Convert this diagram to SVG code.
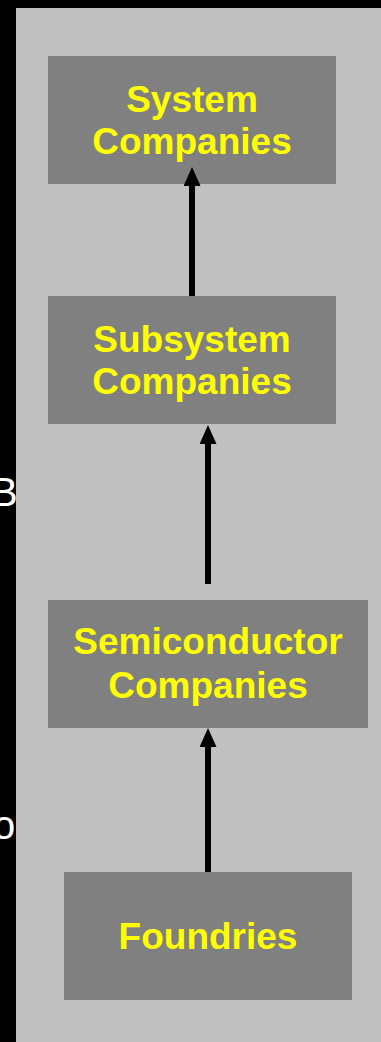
<svg xmlns="http://www.w3.org/2000/svg" width="381" height="1042" viewBox="0 0 381 1042">
  <style>
    .node rect { fill: #808080; }
    .node text { fill: #FFFF00; font-family: "Liberation Sans", Arial, sans-serif; font-weight: bold; font-size: 37px; text-anchor: middle; }
    .edge { stroke: #000; stroke-width: 6; fill: none; marker-end: url(#head); }
    .side { fill: #FFFFFF; font-family: "Liberation Sans", Arial, sans-serif; font-size: 40px; }
  </style>
  <defs>
    <marker id="head" markerUnits="userSpaceOnUse" markerWidth="19" markerHeight="17" refX="0" refY="8.5" orient="auto" viewBox="0 0 19 17">
      <path d="M0,0 L19,8.5 L0,17 Z" fill="#000"/>
    </marker>
  </defs>

  <!-- backdrop -->
  <rect x="0" y="0" width="381" height="1042" fill="#000"/>
  <text class="side" x="-9" y="506">B</text>
  <text class="side" x="-7" y="839">o</text>
  <rect x="16" y="8" width="365" height="1034" fill="#C0C0C0"/>

  <g id="system" class="node">
    <rect x="48" y="56" width="288" height="128"/>
    <text x="192" y="112">System</text>
    <text x="192" y="154">Companies</text>
  </g>

  <g id="subsystem" class="node">
    <rect x="48" y="296" width="288" height="128"/>
    <text x="192" y="352">Subsystem</text>
    <text x="192" y="394">Companies</text>
  </g>

  <g id="semiconductor" class="node">
    <rect x="48" y="600" width="320" height="128"/>
    <text x="208" y="654">Semiconductor</text>
    <text x="208" y="698">Companies</text>
  </g>

  <g id="foundries" class="node">
    <rect x="64" y="872" width="288" height="128"/>
    <text x="208" y="949">Foundries</text>
  </g>

  <g id="connectors">
    <line class="edge" x1="192" y1="296" x2="192" y2="186"/>
    <line class="edge" x1="208" y1="584" x2="208" y2="444"/>
    <line class="edge" x1="208" y1="872" x2="208" y2="747"/>
  </g>
</svg>
